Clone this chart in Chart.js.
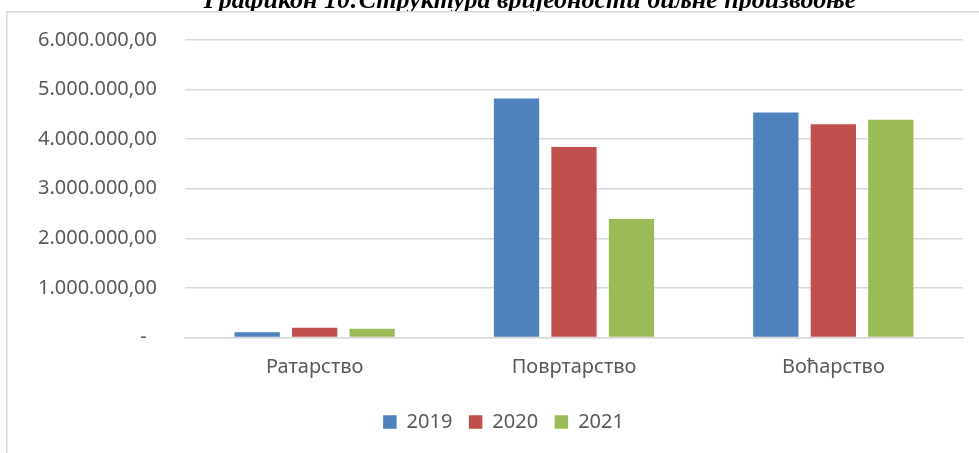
<!DOCTYPE html>
<html>
<head>
<meta charset="utf-8">
<script src="https://cdn.jsdelivr.net/npm/chart.js@4/dist/chart.umd.min.js"></script>
<style>
  html, body { margin: 0; padding: 0; background: #ffffff; }
  #wrap { position: relative; width: 979px; height: 453px; }
</style>
</head>
<body>
<div id="wrap"><canvas id="c" width="979" height="453"></canvas></div>
<script>
const titleText = 'Графикон 10:Структура вриједности биљне производње';
const categories = ['Ратарство', 'Повртарство', 'Воћарство'];
const seriesNames = ['2019', '2020', '2021'];
const values2019 = [107000, 4820000, 4540000];
const values2020 = [195000, 3840000, 4300000];
const values2021 = [175000, 2390000, 4390000];
const seriesColors = ['#4F81BD', '#C0504D', '#9BBB59'];

const textColor = '#595959';
const gridColor = '#d9d9d9';
const baseFont = '"Noto Sans", "Open Sans", sans-serif';

function fmt(v) {
  if (v === 0) return '-  ';
  const s = Math.round(v).toString().replace(/\B(?=(\d{3})+(?!\d))/g, '.');
  return s + ',00';
}

const framePlugin = {
  id: 'frame',
  beforeDraw(chart) {
    const ctx = chart.ctx;
    ctx.save();
    ctx.font = 'bold italic 26px "Liberation Serif", "Times New Roman", serif';
    ctx.fillStyle = '#000000';
    ctx.textAlign = 'center';
    ctx.textBaseline = 'alphabetic';
    ctx.fillText(titleText, 530, 8);
    ctx.fillStyle = '#ffffff';
    ctx.fillRect(6, 11, chart.width, chart.height);
    ctx.strokeStyle = gridColor;
    ctx.lineWidth = 1.5;
    ctx.beginPath();
    ctx.moveTo(6.75, chart.height + 5);
    ctx.lineTo(6.75, 11.75);
    ctx.lineTo(chart.width + 5, 11.75);
    ctx.stroke();
    ctx.restore();
  },
  afterLayout(chart) {
    const lg = chart.legend;
    if (lg) { lg.left += 18.5; lg.right += 18.5; }
  }
};

const datasets = [values2019, values2020, values2021].map((vals, i) => ({
  label: seriesNames[i],
  data: vals,
  backgroundColor: seriesColors[i],
  borderWidth: 0,
  categoryPercentage: 0.665,
  barPercentage: 0.788
}));

new Chart(document.getElementById('c'), {
  type: 'bar',
  data: { labels: categories, datasets },
  options: {
    responsive: false,
    animation: false,
    devicePixelRatio: 1,
    layout: { padding: { left: 7, right: 16, top: 39, bottom: 11 } },
    plugins: {
      title: { display: false },
      tooltip: { enabled: false },
      legend: {
        position: 'bottom',
        labels: {
          color: textColor,
          font: { family: baseFont, size: 20 },
          boxWidth: 13.5,
          boxHeight: 13.5,
          padding: 16.5
        }
      }
    },
    scales: {
      x: {
        grid: { display: false, drawTicks: false },
        border: { display: true, color: gridColor, width: 1.5 },
        ticks: { color: textColor, font: { family: baseFont, size: 20 }, padding: 18, maxRotation: 0 },
        afterFit(scale) { scale.height = 58; }
      },
      y: {
        min: 0,
        max: 6000000,
        grid: { color: gridColor, lineWidth: 1.5, drawTicks: false },
        border: { display: false },
        ticks: {
          stepSize: 1000000,
          color: textColor,
          font: { family: baseFont, size: 20 },
          padding: 28,
          callback: (v) => fmt(v)
        },
        afterFit(scale) { scale.width = 178; }
      }
    }
  },
  plugins: [framePlugin]
});
</script>
</body>
</html>
